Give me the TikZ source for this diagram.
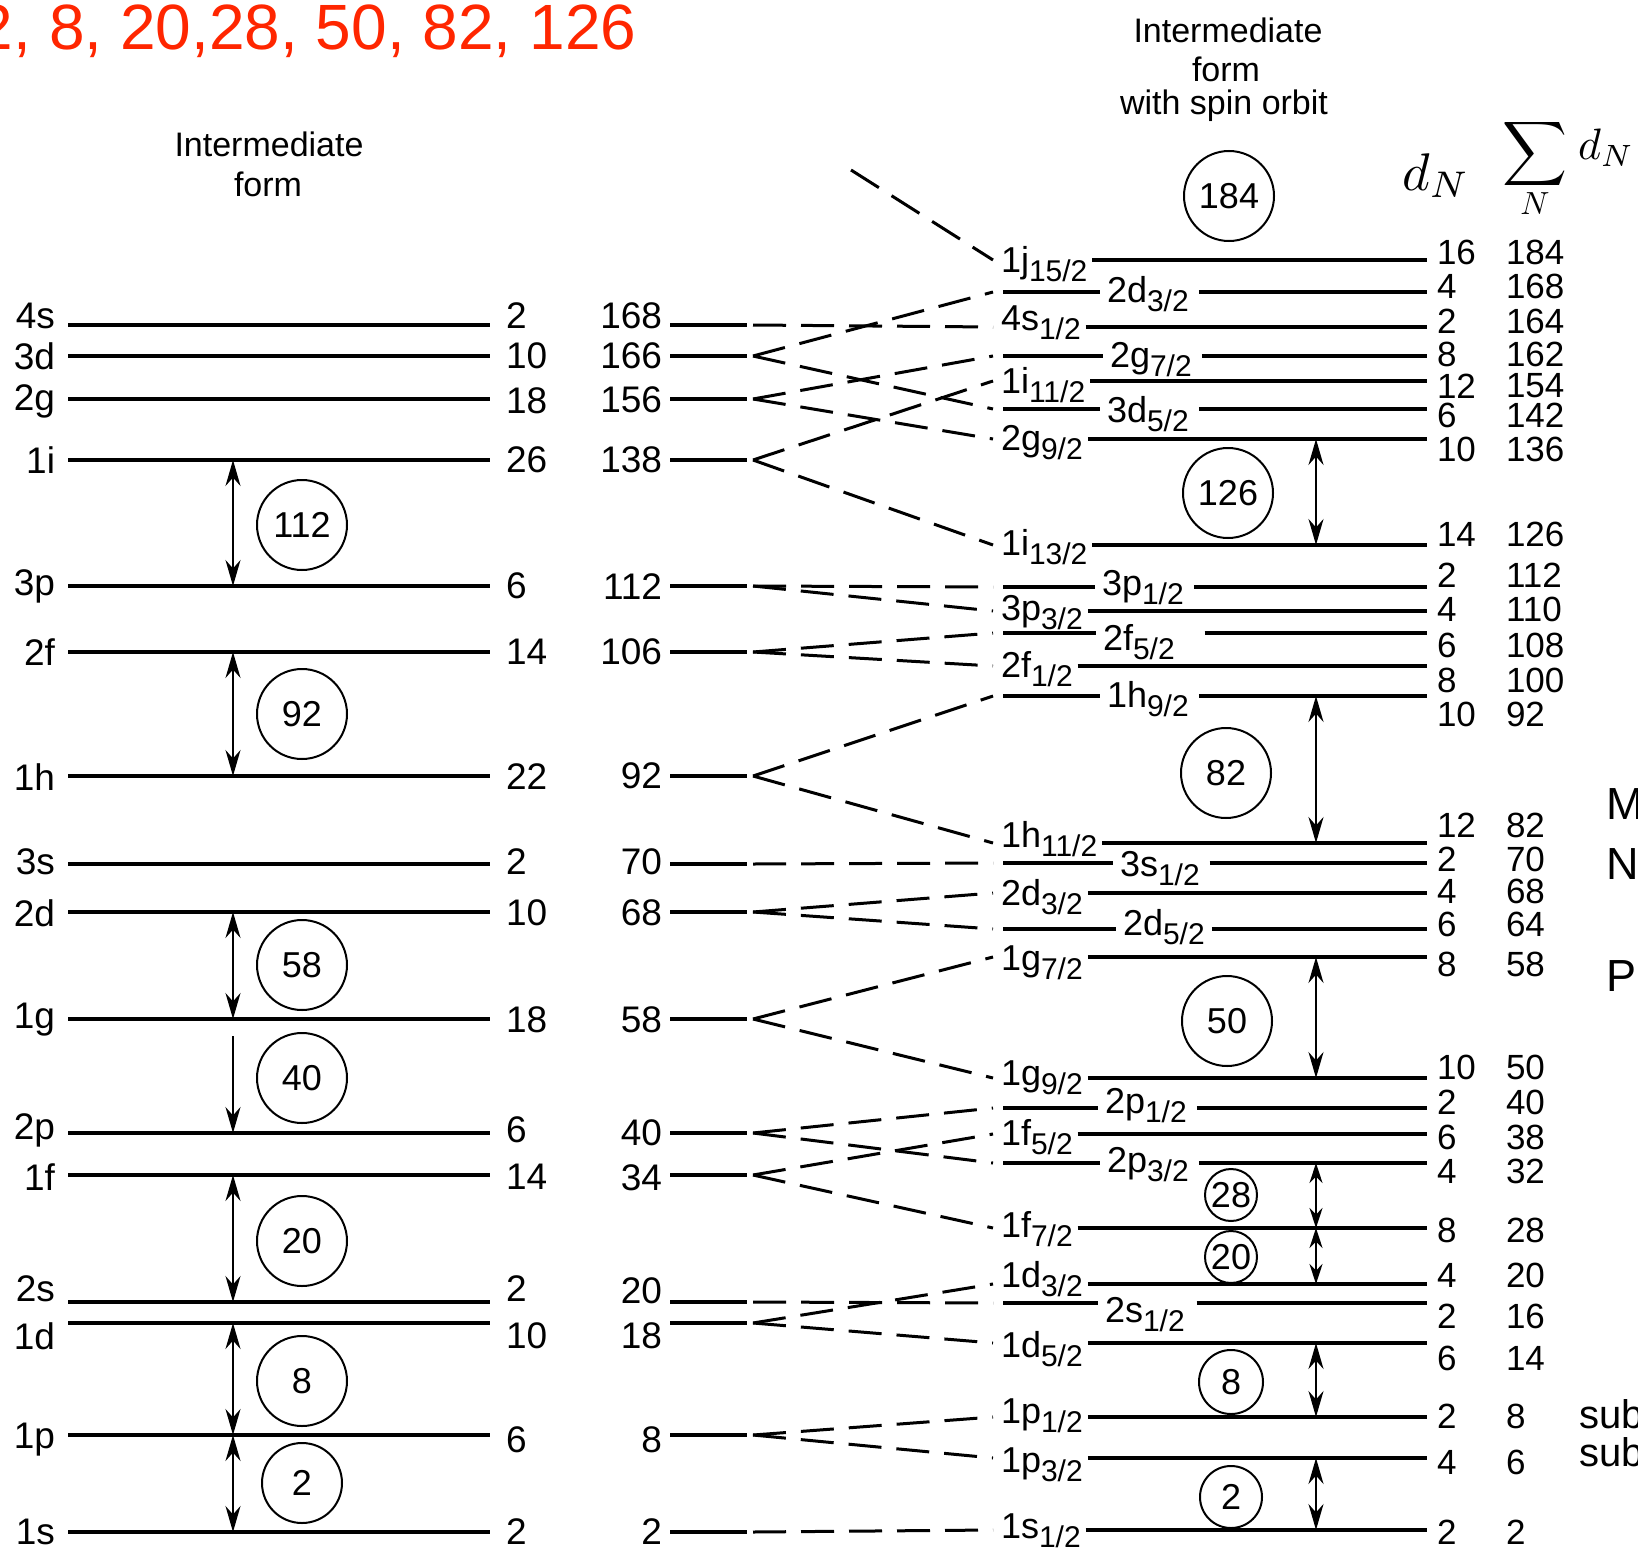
\documentclass[tikz,border=0pt]{standalone}
\usepackage[no-math]{fontspec}
\setmainfont{Liberation Sans}
\usepackage{graphicx}
\usetikzlibrary{arrows.meta}
\definecolor{magicred}{RGB}{255,38,0}
\newcommand\lsub[2]{#1\raisebox{-9pt}{\fontsize{30}{30}\selectfont #2}}
\tikzset{
  every node/.append style={inner sep=0pt, outer sep=0pt},
  lvl/.style={line width=3.8pt},
  dsh/.style={line width=3pt, dash pattern=on 33pt off 15pt},
  gaparr/.style={line width=2pt, arrows={Stealth[length=26pt,width=15pt]-Stealth[length=26pt,width=15pt]}},
  gaparrs/.style={line width=2pt, arrows={Stealth[length=20pt,width=13pt]-Stealth[length=20pt,width=13pt]}},
  gapdown/.style={line width=2pt, arrows={-Stealth[length=26pt,width=15pt]}},
  magic/.style={draw, circle, line width=2pt, minimum size=90pt, font=\fontsize{36}{36}\selectfont},
  lft/.style={font=\fontsize{37}{37}\selectfont},
  rlab/.style={font=\fontsize{36}{36}\selectfont},
  rnum/.style={font=\fontsize{35}{35}\selectfont},
  ttl/.style={font=\fontsize{34}{34}\selectfont},
  cut/.style={font=\fontsize{45}{45}\selectfont},
  cuts/.style={font=\fontsize{40}{40}\selectfont}
}
% left column level: name, line y, label, number, text y
\newcommand\LL[5]{%
  \coordinate (la#1) at (68,#2);
  \coordinate (lb#1) at (490,#2);
  \coordinate (aa#1) at (233,#2);
  \draw[lvl] (la#1) -- (lb#1);
  \node[lft,anchor=east] (ln#1) at (55,#5) {#3};
  \node[lft,anchor=west] (lc#1) at (506,#5) {#4};}
% middle column: name, line y, number, text y
\newcommand\ML[4]{%
  \coordinate (ma#1) at (670,#2);
  \coordinate (mb#1) at (747,#2);
  \coordinate (mv#1) at (753,#2);
  \draw[lvl] (ma#1) -- (mb#1);
  \node[lft,anchor=east] (mn#1) at (662,#4) {#3};}
% right column, label on the left: name, y, label, baseline offset, dN, sum, number y
\newcommand\RL[7]{%
  \coordinate (rt#1) at (993,#2);
  \coordinate (re#1) at (1427,#2);
  \coordinate (ra#1) at (1316,#2);
  \node[rlab,anchor=base west] (rl#1) at (1001,#2+#4) {#3};
  \path (rl#1.east |- re#1) coordinate (rs#1);
  \draw[lvl] ([xshift=5pt]rs#1) -- (re#1);
  \node[rnum,anchor=west] (rd#1) at (1437,#7) {#5};
  \node[rnum,anchor=west] (rx#1) at (1506,#7) {#6};}
% right column, label inside the line: ... , label x, gap after label
\newcommand\RC[9]{%
  \coordinate (rt#1) at (993,#2);
  \coordinate (rs#1) at (1003,#2);
  \coordinate (re#1) at (1427,#2);
  \coordinate (ra#1) at (1316,#2);
  \node[rlab,anchor=base west] (rl#1) at (#8,#2+#4) {#3};
  \path (rl#1.west |- re#1) coordinate (rw#1) (rl#1.east |- re#1) coordinate (rk#1);
  \draw[lvl] (rs#1) -- ([xshift=-7pt]rw#1);
  \draw[lvl] ([xshift=#9]rk#1) -- (re#1);
  \node[rnum,anchor=west] (rd#1) at (1437,#7) {#5};
  \node[rnum,anchor=west] (rx#1) at (1506,#7) {#6};}
\begin{document}
\begin{tikzpicture}[x=1pt,y=-1pt]
\useasboundingbox (0,0) rectangle (1638,1552);
\clip (0,0) rectangle (1638,1552);

% red heading
\node[anchor=base west, text=magicred, font=\fontsize{64}{64}\selectfont] (magicnums) at (-22,50) {2, 8, 20,28, 50, 82, 126};

% titles
\node[ttl, anchor=base] (tl1) at (269,157) {Intermediate};
\node[ttl, anchor=base] (tl2) at (268,196) {form};
\node[ttl, anchor=base] (tr1) at (1228,43) {Intermediate};
\node[ttl, anchor=base] (tr2) at (1226,82) {form};
\node[ttl, anchor=base] (tr3) at (1224,115) {with spin orbit};

% column headers
\node[anchor=base west] (hdn) at (1402,190) {\scalebox{5.3}{$d_N$}};
\node (hsum) at (1535,154) {\scalebox{4.5}{$\displaystyle\sum$}};
\node (hsn) at (1535,204) {\scalebox{3.2}{$N$}};
\node[anchor=base west] (hdn2) at (1578,160) {\scalebox{4.4}{$d_N$}};

% left column
\LL{4s}{325}{4s}{2}{316}
\LL{3d}{356}{3d}{10}{356}
\LL{2g}{399}{2g}{18}{401}
\LL{1i}{460}{1i}{26}{460}
\LL{3p}{586}{3p}{6}{586}
\LL{2f}{652}{2f}{14}{652}
\LL{1h}{776}{1h}{22}{777}
\LL{3s}{864}{3s}{2}{862}
\LL{2d}{912}{2d}{10}{913}
\LL{1g}{1019}{1g}{18}{1020}
\LL{2p}{1133}{2p}{6}{1130}
\LL{1f}{1175}{1f}{14}{1177}
\LL{2s}{1302}{2s}{2}{1289}
\LL{1d}{1323}{1d}{10}{1336}
\LL{1p}{1435}{1p}{6}{1440}
\LL{1s}{1532}{1s}{2}{1532}

\node[magic] (c112) at (302,525) {112};
\node[magic] (c92) at (302,714) {92};
\node[magic] (c58) at (302,965) {58};
\node[magic] (c40) at (302,1078) {40};
\node[magic] (c20) at (302,1241) {20};
\node[magic] (c8) at (302,1381) {8};
\node[magic, minimum size=80pt] (c2) at (302,1483) {2};

\draw[gaparr] (aa1i) -- (aa3p);
\draw[gaparr] (aa2f) -- (aa1h);
\draw[gaparr] (aa2d) -- (aa1g);
\draw[gapdown] ([yshift=-17pt]aa1g) -- (aa2p);
\draw[gaparr] (aa1f) -- (aa2s);
\draw[gaparr] (aa1d) -- (aa1p);
\draw[gaparr] (aa1p) -- (aa1s);

% middle column
\ML{168}{325}{168}{316}
\ML{166}{356}{166}{356}
\ML{156}{399}{156}{400}
\ML{138}{460}{138}{460}
\ML{112}{586}{112}{587}
\ML{106}{652}{106}{652}
\ML{92}{776}{92}{776}
\ML{70}{864}{70}{862}
\ML{68}{912}{68}{913}
\ML{58}{1019}{58}{1020}
\ML{40}{1133}{40}{1133}
\ML{34}{1175}{34}{1178}
\ML{20}{1302}{20}{1291}
\ML{18}{1323}{18}{1336}
\ML{8}{1435}{8}{1440}
\ML{2}{1532}{2}{1532}

% right column
\RL{j15}{260}{\lsub{1j}{15/2}}{12}{16}{184}{252}
\RC{d3a}{292}{\lsub{2d}{3/2}}{10}{4}{168}{286}{1107}{10pt}
\RL{s4}{327}{\lsub{4s}{1/2}}{3}{2}{164}{321}
\RC{g7}{356}{\lsub{2g}{7/2}}{11}{8}{162}{354}{1110}{10pt}
\RL{i11}{381}{\lsub{1i}{11/2}}{12}{12}{154}{386}
\RC{d5a}{409}{\lsub{3d}{5/2}}{13}{6}{142}{415}{1107}{10pt}
\RL{g9}{439}{\lsub{2g}{9/2}}{11}{10}{136}{449}
\RL{i13}{545}{\lsub{1i}{13/2}}{10}{14}{126}{534}
\RC{p1a}{587}{\lsub{3p}{1/2}}{8}{2}{112}{575}{1102}{10pt}
\RL{p3a}{611}{\lsub{3p}{3/2}}{9}{4}{110}{609}
\RC{f5a}{633}{\lsub{2f}{5/2}}{17}{6}{108}{645}{1103}{30pt}
\RL{f7a}{666}{\lsub{2f}{1/2}}{11}{8}{100}{680}
\RC{h9}{696}{\lsub{1h}{9/2}}{11}{10}{92}{714}{1107}{10pt}
\RL{h11}{843}{\lsub{1h}{11/2}}{4}{12}{82}{825}
\RC{s3}{863}{\lsub{3s}{1/2}}{13}{2}{70}{859}{1120}{10pt}
\RL{d3b}{893}{\lsub{2d}{3/2}}{12}{4}{68}{891}
\RC{d5b}{929}{\lsub{2d}{5/2}}{6}{6}{64}{924}{1123}{7pt}
\RL{g7b}{957}{\lsub{1g}{7/2}}{13}{8}{58}{964}
\RL{g9b}{1078}{\lsub{1g}{9/2}}{7}{10}{50}{1067}
\RC{p1b}{1108}{\lsub{2p}{1/2}}{5}{2}{40}{1102}{1105}{10pt}
\RL{f5b}{1134}{\lsub{1f}{5/2}}{11}{6}{38}{1137}
\RC{p3b}{1163}{\lsub{2p}{3/2}}{9}{4}{32}{1171}{1107}{10pt}
\RL{f7b}{1228}{\lsub{1f}{7/2}}{9}{8}{28}{1230}
\RL{d3c}{1284}{\lsub{1d}{3/2}}{3}{4}{20}{1275}
\RC{s2}{1303}{\lsub{2s}{1/2}}{19}{2}{16}{1316}{1105}{12pt}
\RL{d5c}{1343}{\lsub{1d}{5/2}}{14}{6}{14}{1358}
\RL{p1c}{1417}{\lsub{1p}{1/2}}{6}{2}{8}{1416}
\RL{p3c}{1458}{\lsub{1p}{3/2}}{14}{4}{6}{1462}
\RL{s1}{1530}{\lsub{1s}{1/2}}{8}{2}{2}{1532}

\node[magic] (r184) at (1229,196) {184};
\node[magic] (r126) at (1228,493) {126};
\node[magic] (r82) at (1226,773) {82};
\node[magic] (r50) at (1227,1021) {50};
\node[magic, minimum size=52pt] (r28) at (1231,1195) {28};
\node[magic, minimum size=52pt] (r20) at (1231,1257) {20};
\node[magic, minimum size=64pt] (r8) at (1231,1382) {8};
\node[magic, minimum size=62pt] (r2) at (1231,1497) {2};

\draw[gaparr] (rag9) -- (rai13);
\draw[gaparr] (rah9) -- (rah11);
\draw[gaparr] (rag7b) -- (rag9b);
\draw[gaparrs] (rap3b) -- (raf7b);
\draw[gaparrs] (raf7b) -- (rad3c);
\draw[gaparr] (rad5c) -- (rap1c);
\draw[gaparr] (rap3c) -- (ras1);

% dashed correlation lines
\coordinate (jfar) at (851,170);
\draw[dsh] (jfar) -- (rtj15);
\draw[dsh] (mv168) -- (rts4);
\draw[dsh] (mv166) -- (rtd3a);
\draw[dsh] (mv166) -- (rtd5a);
\draw[dsh] (mv156) -- (rtg7);
\draw[dsh] (mv156) -- (rtg9);
\draw[dsh] (mv138) -- (rti11);
\draw[dsh] (mv138) -- (rti13);
\draw[dsh] (mv112) -- (rtp1a);
\draw[dsh] (mv112) -- (rtp3a);
\draw[dsh] (mv106) -- (rtf5a);
\draw[dsh] (mv106) -- (rtf7a);
\draw[dsh] (mv92) -- (rth9);
\draw[dsh] (mv92) -- (rth11);
\draw[dsh] (mv70) -- (rts3);
\draw[dsh] (mv68) -- (rtd3b);
\draw[dsh] (mv68) -- (rtd5b);
\draw[dsh] (mv58) -- (rtg7b);
\draw[dsh] (mv58) -- (rtg9b);
\draw[dsh] (mv40) -- (rtp1b);
\draw[dsh] (mv40) -- (rtp3b);
\draw[dsh] (mv34) -- (rtf5b);
\draw[dsh] (mv34) -- (rtf7b);
\draw[dsh] (mv20) -- (rts2);
\draw[dsh] (mv18) -- (rtd3c);
\draw[dsh] (mv18) -- (rtd5c);
\draw[dsh] (mv8) -- (rtp1c);
\draw[dsh] (mv8) -- (rtp3c);
\draw[dsh] (mv2) -- (rts1);

% text cut off at the right edge
\node[cut, anchor=base west] (tM) at (1606,819) {M};
\node[cut, anchor=base west] (tN) at (1606,879) {N};
\node[cut, anchor=base west] (tP) at (1606,991) {P};
\node[cuts, anchor=base west] (tsub1) at (1579,1428) {sub};
\node[cuts, anchor=base west] (tsub2) at (1579,1466) {sub};
\end{tikzpicture}
\end{document}
